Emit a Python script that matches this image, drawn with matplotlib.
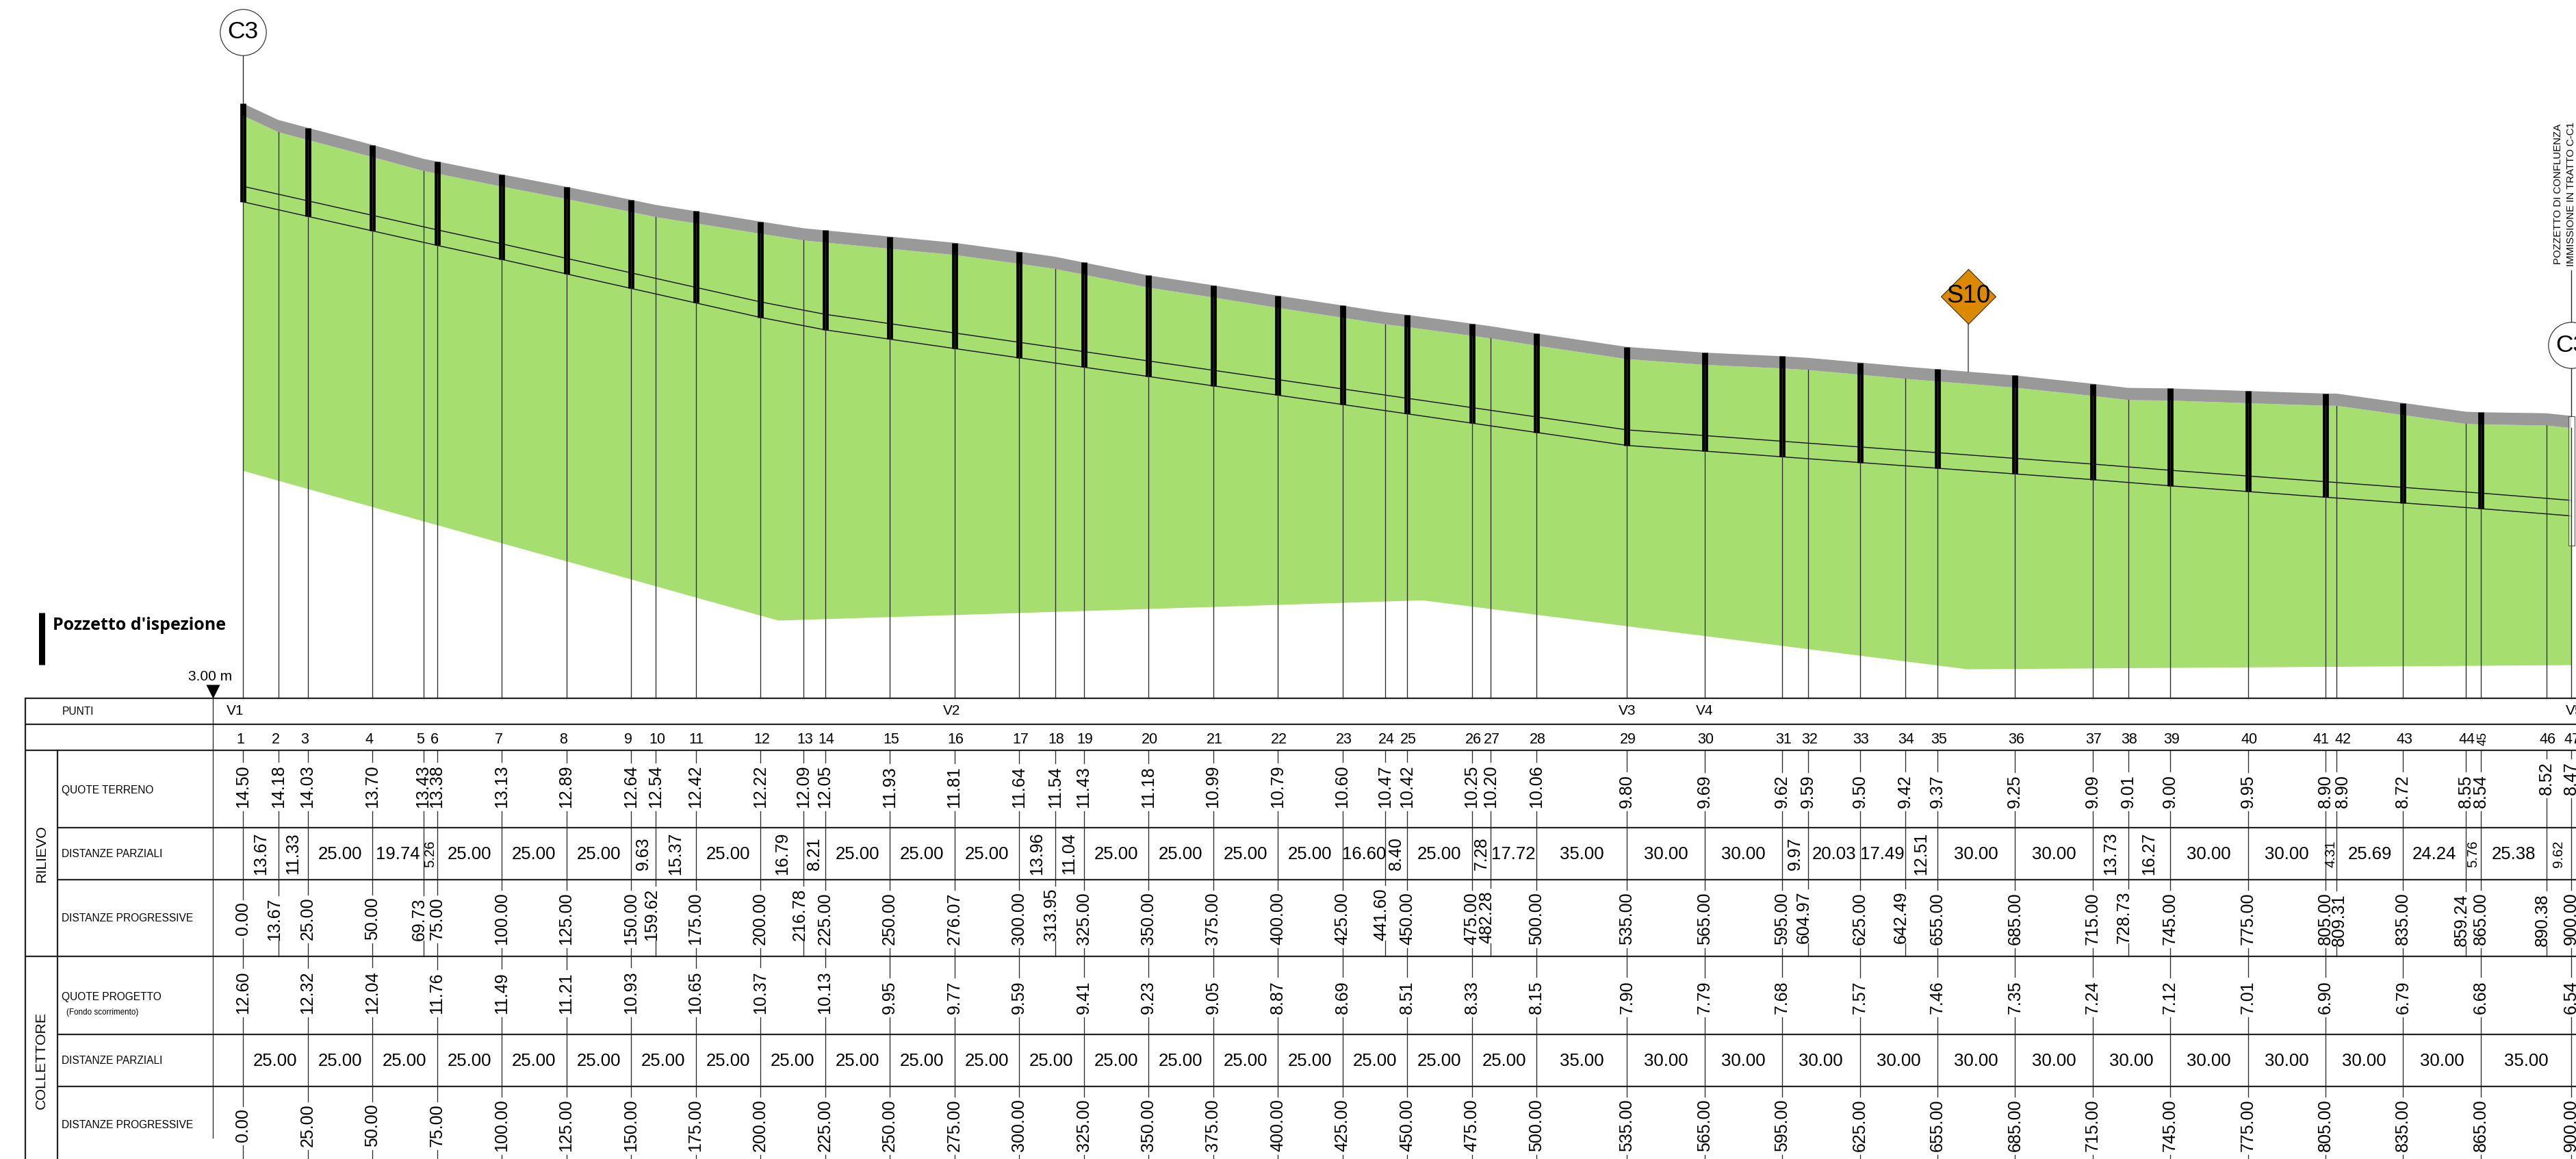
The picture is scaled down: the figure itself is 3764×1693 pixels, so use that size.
import matplotlib
matplotlib.use('Agg')
from matplotlib import pyplot as plt
from matplotlib.patches import Polygon, Rectangle
import numpy as np

W, H = 3764, 1693
DPI = 100
X0, SX = 355.0, 3.78      # px of station 0, px per metre
Y0, SY = 151.0, 75.7      # px of elevation 14.50, px per metre

# rilievo (survey points)
point_no = list(range(1, 48))
rilievo_prog = [0.00, 13.67, 25.00, 50.00, 69.73, 75.00, 100.00, 125.00, 150.00, 159.62,
                175.00, 200.00, 216.78, 225.00, 250.00, 276.07, 300.00, 313.95, 325.00, 350.00,
                375.00, 400.00, 425.00, 441.60, 450.00, 475.00, 482.28, 500.00, 535.00, 565.00,
                595.00, 604.97, 625.00, 642.49, 655.00, 685.00, 715.00, 728.73, 745.00, 775.00,
                805.00, 809.31, 835.00, 859.24, 865.00, 890.38, 900.00]
rilievo_quote = [14.50, 14.18, 14.03, 13.70, 13.43, 13.38, 13.13, 12.89, 12.64, 12.54,
                 12.42, 12.22, 12.09, 12.05, 11.93, 11.81, 11.64, 11.54, 11.43, 11.18,
                 10.99, 10.79, 10.60, 10.47, 10.42, 10.25, 10.20, 10.06, 9.80, 9.69,
                 9.62, 9.59, 9.50, 9.42, 9.37, 9.25, 9.09, 9.01, 9.00, 9.95,
                 8.90, 8.90, 8.72, 8.55, 8.54, 8.52, 8.47]
rilievo_parz = [13.67, 11.33, 25.00, 19.74, 5.26, 25.00, 25.00, 25.00, 9.63, 15.37,
                25.00, 16.79, 8.21, 25.00, 25.00, 25.00, 13.96, 11.04, 25.00, 25.00,
                25.00, 25.00, 16.60, 8.40, 25.00, 7.28, 17.72, 35.00, 30.00, 30.00,
                9.97, 20.03, 17.49, 12.51, 30.00, 30.00, 13.73, 16.27, 30.00, 30.00,
                4.31, 25.69, 24.24, 5.76, 25.38, 9.62]
parz_rotated = [0, 1, 8, 9, 11, 12, 16, 17, 23, 25, 30, 33, 36, 37]
parz_small = [4, 40, 43, 45]

# collettore (design points)
coll_prog = [0.00, 25.00, 50.00, 75.00, 100.00, 125.00, 150.00, 175.00, 200.00, 225.00,
             250.00, 275.00, 300.00, 325.00, 350.00, 375.00, 400.00, 425.00, 450.00, 475.00,
             500.00, 535.00, 565.00, 595.00, 625.00, 655.00, 685.00, 715.00, 745.00, 775.00,
             805.00, 835.00, 865.00, 900.00]
coll_quote = [12.60, 12.32, 12.04, 11.76, 11.49, 11.21, 10.93, 10.65, 10.37, 10.13,
              9.95, 9.77, 9.59, 9.41, 9.23, 9.05, 8.87, 8.69, 8.51, 8.33,
              8.15, 7.90, 7.79, 7.68, 7.57, 7.46, 7.35, 7.24, 7.12, 7.01,
              6.90, 6.79, 6.68, 6.54]
coll_parz = [25.00] * 20 + [35.00] + [30.00] * 11 + [35.00]

# bottom of the green area
green_st = [0.0, 207.0, 456.0, 666.7, 900.0]
green_z = [7.41, 4.52, 4.91, 3.58, 3.66]

vertex_labels = ['V1', 'V2', 'V3', 'V4', 'V5']
vertex_st = [-2.9, 274.0, 535.0, 565.0, 901.3]
s10_st = 667.0

# the drawing places point 16 on station 275 and point 40 at 8.95
point_st = list(rilievo_prog)
point_st[15] = 275.00
ground_z = list(rilievo_quote)
ground_z[39] = 8.95

ROWS = [1020, 1058, 1096, 1209, 1285, 1397, 1511, 1587]
plt.rcParams['font.family'] = ['Liberation Sans', 'DejaVu Sans']


def sx(px):
    return (px - X0) / SX


def zy(z):
    return Y0 + (14.50 - z) * SY


fig = plt.figure(figsize=(W / DPI, H / DPI), dpi=DPI, facecolor='white')

# profile: stations and elevations
ax = fig.add_axes([0, 0, 1, 1])
ax.set_xlim(sx(0), sx(W))
ax.set_ylim(14.50 - (H - Y0) / SY, 14.50 + Y0 / SY)
ax.axis('off')

# table: stations and pixel rows
tb = fig.add_axes([0, 0, 1, 1])
tb.set_xlim(sx(0), sx(W))
tb.set_ylim(H, 0)
tb.axis('off')
tb.patch.set_alpha(0)

BAND = 0.235
band_low = [z - BAND for z in ground_z]
ax.add_patch(Polygon(list(zip(point_st, ground_z)) + list(zip(point_st, band_low))[::-1],
                     closed=True, fc='#999999', ec='none', zorder=2))
ax.add_patch(Polygon(list(zip(point_st, band_low)) + list(zip(green_st, green_z))[::-1],
                     closed=True, fc='#A6DE70', ec='none', zorder=1))
ax.plot(coll_prog, coll_quote, color='#111111', lw=1.0, zorder=3)
ax.plot(coll_prog, [z + 0.30 for z in coll_quote], color='#111111', lw=1.0, zorder=3)

LINE = dict(color='#2a2a2a', lw=0.95, zorder=4)

# thin verticals in the profile, from the ground to the table
for st, z in zip(point_st, band_low):
    tb.plot([st, st], [zy(z), ROWS[0]], **LINE)

# manholes
for st, z in zip(coll_prog[:-1], coll_quote[:-1]):
    g = ground_z[point_st.index(st)]
    ax.plot([st, st], [g, z], color='black', lw=6.3, solid_capstyle='butt', zorder=5)
last = coll_prog[-1]
ax.add_patch(Rectangle((last - 4.5 / SX, 14.50 - (797 - Y0) / SY), 9 / SX, (797 - 607.6) / SY,
                       fc=(1, 1, 1, 0.6), ec='#555555', lw=0.8, zorder=5))

# table frame
for i, y in enumerate(ROWS):
    x_start = sx(37) if i in (0, 1, 2, 5) else sx(83.5)
    tb.plot([x_start, sx(W)], [y, y], color='#222222', lw=1.6, solid_capstyle='butt', zorder=6)
tb.plot([sx(37), sx(37)], [ROWS[0], H], color='#222222', lw=1.6, zorder=6)
tb.plot([sx(83.5), sx(83.5)], [ROWS[2], H], color='#222222', lw=1.6, zorder=6)
tb.plot([sx(310.6), sx(310.6)], [ROWS[0], 1662], **LINE)
tb.scatter([sx(310.6)], [1010], marker='v', s=210, color='black', linewidths=0, zorder=6)
tb.text(sx(307), 989, '3.00 m', ha='center', va='center', fontsize=15)

for label, y in [('PUNTI', 1040), ('QUOTE TERRENO', 1154), ('DISTANZE PARZIALI', 1247),
                 ('DISTANZE PROGRESSIVE', 1341), ('QUOTE PROGETTO', 1456),
                 ('DISTANZE PARZIALI', 1550), ('DISTANZE PROGRESSIVE', 1644)]:
    tb.text(sx(90.5), y, label, ha='left', va='center', fontsize=11.2)
tb.text(sx(97), 1479, '(Fondo scorrimento)', ha='left', va='center', fontsize=8.4)
tb.text(sx(60.5), 1247, 'RILIEVO', rotation=90, ha='center', va='center', fontsize=15.3)
tb.text(sx(60.5), 1549, 'COLLETTORE', rotation=90, ha='center', va='center', fontsize=15.4)

for label, st in zip(vertex_labels, vertex_st):
    tb.text(st, 1038, label, ha='center', va='center', fontsize=15)

num_shift = {41: -18, 42: -3}
for n, st in zip(point_no, point_st):
    if n == 45:
        tb.text(st + 3 / SX, 1079, str(n), rotation=90, ha='center', va='center', fontsize=13)
    else:
        tb.text(st + num_shift.get(n, -10) / SX, 1081, str(n), ha='left', va='center', fontsize=15.5)


def vtext(x, y, s, va='center', size=18.0):
    return tb.text(x, y, s, rotation=90, ha='center', va=va, fontsize=size, zorder=7)


renderer = fig.canvas.get_renderer()


def segments(st, y0, y1, gaps):
    # vertical line from y0 to y1, interrupted at the given labels
    y = y0
    for t, pad_top, pad_bot in gaps:
        box = t.get_window_extent(renderer)
        top, bot = H - box.y1, H - box.y0
        tb.plot([st, st], [y, top - pad_top], **LINE)
        y = bot + pad_bot
    tb.plot([st, st], [y, y1], **LINE)


# rilievo columns
prog_shift = {482.28: 4, 604.97: 4, 642.49: 4, 728.73: 4, 809.31: 8, 859.24: 8, 890.38: 8}
for i, st in enumerate(point_st):
    on_coll = st in coll_prog
    dx, bottom = 0, 1180
    if i == 41:
        dx = 9
    if i >= 45:
        bottom = 1161
    t1 = vtext(st + dx / SX, bottom, '%.2f' % rilievo_quote[i], va='bottom')
    p = rilievo_prog[i]
    if on_coll:
        t2 = vtext(st, 1342, '%.2f' % p)
    else:
        off = 4 if p == 809.31 else -6
        t2 = vtext(st + off / SX, 1374 + prog_shift.get(p, 0), '%.2f' % p, va='bottom')
    segments(st, ROWS[2], ROWS[5], [(t1, 4, 5), (t2, 4, 0 if not on_coll else 5)])

for i, v in enumerate(rilievo_parz):
    mid = (point_st[i] + point_st[i + 1]) / 2
    s = '%.2f' % v
    if i in parz_small:
        vtext(mid, 1247, s, size=14.6)
    elif i in parz_rotated:
        vtext(mid, 1247, s)
    else:
        tb.text(mid, 1248, s, ha='center', va='center', fontsize=18.5, zorder=7)

# collettore columns
for st, z in zip(coll_prog, coll_quote):
    t1 = vtext(st, 1481, '%.2f' % z, va='bottom')
    t2 = vtext(st, 1644, '%.2f' % st)
    segments(st, ROWS[5], H, [(t1, 5, 5), (t2, 4, 5)])

for i, v in enumerate(coll_parz):
    tb.text((coll_prog[i] + coll_prog[i + 1]) / 2, 1550, '%.2f' % v,
            ha='center', va='center', fontsize=18.5, zorder=7)

# legend
tb.plot([sx(61), sx(61)], [895, 970.7], color='black', lw=6.5, solid_capstyle='butt')
tb.text(sx(77), 913, "Pozzetto d'ispezione", ha='left', va='center', fontsize=18,
        fontweight='bold', family=['Open Sans', 'Liberation Sans'])

# head markers
for st, y, stem in [(0.0, 47, (81, 151)), (900.0, 504, (538, 607.6))]:
    tb.plot([st, st], stem, color='#222222', lw=0.95, zorder=8)
    tb.plot([st], [y], marker='o', ms=48.5, mfc='white', mec='#222222', mew=0.8, zorder=8, clip_on=False)
    tb.text(st, y, 'C3', ha='center', va='center', fontsize=25.5, zorder=9)
tb.plot([900, 900], [395, 470], color='#222222', lw=0.95, zorder=8)
tb.text(sx(3738), 386, 'POZZETTO DI CONFLUENZA', rotation=90, ha='center', va='bottom', fontsize=10.8)
tb.text(sx(3757), 389, 'IMMISSIONE IN TRATTO C-C1', rotation=90, ha='center', va='bottom', fontsize=10.8)

# S10 marker
s10_ground = np.interp(s10_st, point_st, ground_z)
tb.plot([s10_st, s10_st], [470, zy(s10_ground)], color='#777777', lw=1.5, zorder=7)
tb.scatter([s10_st], [432.7], marker='D', s=1660, color='#DB8A00', edgecolors='#3a2a10', linewidths=0.8, zorder=8)
tb.text(s10_st, 432.7, 'S10', ha='center', va='center', fontsize=26, zorder=9)

fig.savefig('out.png', dpi=DPI, facecolor='white')
